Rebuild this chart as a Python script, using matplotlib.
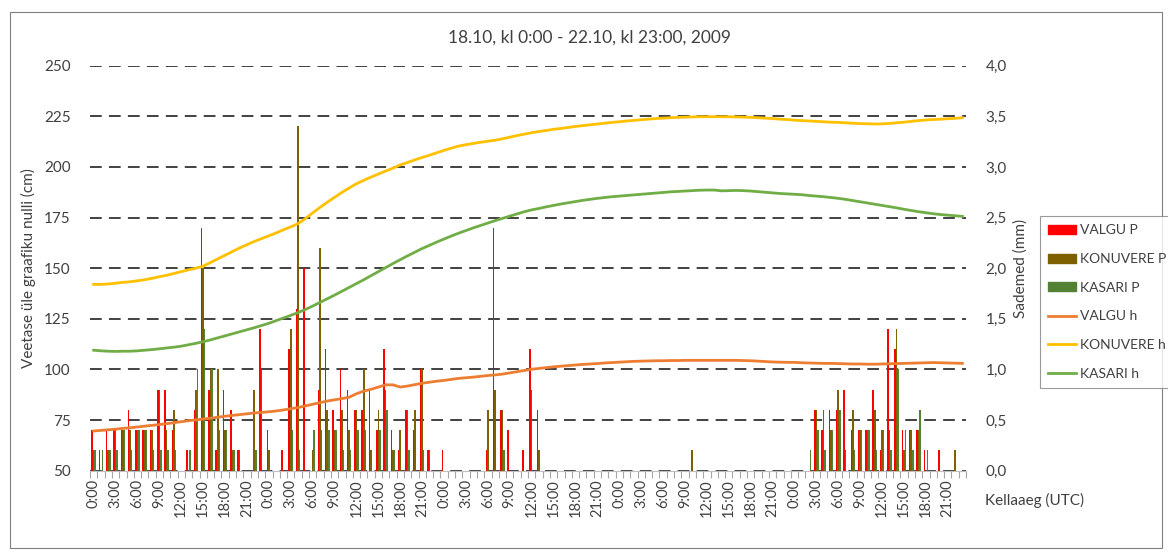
import numpy as np
import matplotlib
matplotlib.use("Agg")
import matplotlib.pyplot as plt
from matplotlib.patches import Rectangle, Patch
from matplotlib.lines import Line2D

plt.rcParams['font.family'] = ['Lato', 'DejaVu Sans']

# ---------------- data ----------------
hour_labels = [f"{h}:00" for h in range(0, 24, 3)] * 5

valgu_p = [0.4, 0.2, 0.4, 0.4, 0.4, 0.6, 0.4, 0.4, 0.4, 0.8, 0.8, 0.4, 0.0, 0.2, 0.6, 2.4, 0.8, 0.2, 0.8, 0.6, 0.2, 0.0, 0.0, 1.4,
           0.4, 0.0, 0.2, 1.2, 1.6, 2.0, 0.0, 0.8, 1.2, 0.6, 1.0, 0.8, 0.6, 0.6, 0.8, 0.4, 1.2, 0.4, 0.2, 0.6, 0.4, 1.0, 0.2, 0.0,
           0.2, 0.0, 0.0, 0.0, 0.0, 0.0, 0.2, 2.4, 0.6, 0.4, 0.0, 0.2, 1.2, 0.6, 0.0, 0.0, 0.0, 0.0, 0.0, 0.0, 0.0, 0.0, 0.0, 0.0,
           0.0, 0.0, 0.0, 0.0, 0.0, 0.0, 0.0, 0.0, 0.0, 0.0, 0.0, 0.0, 0.0, 0.0, 0.0, 0.0, 0.0, 0.0, 0.0, 0.0, 0.0, 0.0, 0.0, 0.0,
           0.0, 0.0, 0.0, 0.6, 0.4, 0.6, 0.6, 0.8, 0.4, 0.4, 0.4, 0.8, 0.2, 1.4, 1.2, 0.4, 0.4, 0.4, 0.2, 0.0, 0.2, 0.0, 0.0, 0.0]

konuvere_p = [0.2, 0.0, 0.2, 0.4, 0.4, 0.4, 0.4, 0.4, 0.4, 0.8, 0.4, 0.6, 0.0, 0.0, 0.8, 2.0, 1.0, 1.0, 0.4, 0.2, 0.2, 0.0, 0.8, 1.0,
              0.2, 0.0, 0.0, 1.4, 3.4, 0.0, 0.2, 2.2, 0.6, 0.4, 0.6, 0.4, 0.6, 1.0, 0.2, 0.6, 0.8, 0.2, 0.4, 0.6, 0.6, 1.0, 0.2, 0.0,
              0.0, 0.0, 0.0, 0.0, 0.0, 0.0, 0.6, 0.8, 0.6, 0.0, 0.0, 0.0, 0.8, 0.2, 0.0, 0.0, 0.0, 0.0, 0.0, 0.0, 0.0, 0.0, 0.0, 0.0,
              0.0, 0.0, 0.0, 0.0, 0.0, 0.0, 0.0, 0.0, 0.0, 0.0, 0.2, 0.0, 0.0, 0.0, 0.0, 0.0, 0.0, 0.0, 0.0, 0.0, 0.0, 0.0, 0.0, 0.0,
              0.0, 0.0, 0.0, 0.6, 0.6, 0.4, 0.8, 0.2, 0.6, 0.4, 0.4, 0.6, 0.4, 0.4, 1.4, 0.2, 0.4, 0.4, 0.0, 0.0, 0.0, 0.0, 0.2, 0.0]

kasari_p = [0.2, 0.2, 0.2, 0.2, 0.4, 0.2, 0.4, 0.4, 0.2, 0.2, 0.2, 0.2, 0.0, 0.2, 1.0, 1.4, 1.0, 0.4, 0.4, 0.2, 0.0, 0.0, 0.2, 0.0,
            0.0, 0.0, 0.0, 0.4, 0.2, 0.0, 0.4, 0.4, 0.4, 0.4, 0.2, 0.2, 0.4, 0.4, 0.0, 0.4, 0.6, 0.2, 0.0, 0.2, 0.0, 0.2, 0.0, 0.0,
            0.0, 0.0, 0.0, 0.0, 0.0, 0.0, 0.0, 0.0, 0.2, 0.0, 0.0, 0.0, 0.0, 0.0, 0.0, 0.0, 0.0, 0.0, 0.0, 0.0, 0.0, 0.0, 0.0, 0.0,
            0.0, 0.0, 0.0, 0.0, 0.0, 0.0, 0.0, 0.0, 0.0, 0.0, 0.0, 0.0, 0.0, 0.0, 0.0, 0.0, 0.0, 0.0, 0.0, 0.0, 0.0, 0.0, 0.0, 0.0,
            0.0, 0.0, 0.2, 0.4, 0.2, 0.4, 0.6, 0.0, 0.2, 0.4, 0.4, 0.2, 0.4, 0.2, 1.0, 0.4, 0.2, 0.6, 0.2, 0.0, 0.0, 0.0, 0.0, 0.0]

valgu_h = [69.6, 69.9, 70.2, 70.5, 70.9, 71.2, 71.6, 72.0, 72.4, 72.8, 73.2, 73.7, 74.2, 74.7, 75.1, 75.5, 75.9, 76.4, 76.9, 77.3, 77.7, 78.1, 78.5, 78.8,
           79.1, 79.5, 80.0, 80.6, 81.2, 82.0, 82.8, 83.6, 84.4, 85.0, 85.6, 86.3, 88.0, 89.3, 90.2, 91.3, 92.4, 92.4, 91.3, 91.8, 92.5, 93.2, 93.7, 94.2,
           94.6, 95.1, 95.6, 95.9, 96.2, 96.6, 97.0, 97.3, 97.7, 98.3, 98.9, 99.5, 100.1, 100.5, 100.9, 101.3, 101.6, 101.9, 102.2, 102.5, 102.7, 102.9, 103.2, 103.4,
           103.6, 103.8, 104.0, 104.1, 104.2, 104.3, 104.3, 104.4, 104.4, 104.5, 104.5, 104.5, 104.5, 104.5, 104.5, 104.5, 104.5, 104.4, 104.3, 104.1, 103.9, 103.7, 103.6, 103.5,
           103.5, 103.3, 103.2, 103.1, 103.0, 103.0, 102.9, 102.8, 102.7, 102.7, 102.6, 102.6, 102.7, 102.8, 102.9, 103.0, 103.1, 103.2, 103.3, 103.4, 103.3, 103.2, 103.1, 103.0]

konuvere_h = [142.0, 142.0, 142.2, 142.6, 143.0, 143.3, 143.8, 144.3, 145.0, 145.8, 146.5, 147.4, 148.3, 149.2, 150.0, 151.0, 152.8, 154.6, 156.4, 158.2, 160.0, 161.6, 163.2, 164.6,
              166.0, 167.4, 169.0, 170.4, 172.0, 174.5, 177.3, 180.0, 182.6, 185.0, 187.4, 189.6, 191.7, 193.4, 195.0, 196.5, 198.0, 199.4, 201.0, 202.2, 203.5, 204.7, 205.8, 207.0,
              208.2, 209.3, 210.3, 211.0, 211.6, 212.2, 212.7, 213.2, 213.9, 214.7, 215.5, 216.2, 216.9, 217.5, 218.0, 218.6, 219.0, 219.5, 220.0, 220.4, 220.8, 221.2, 221.6, 222.0,
              222.3, 222.7, 223.0, 223.3, 223.6, 223.9, 224.1, 224.3, 224.5, 224.6, 224.7, 224.8, 224.8, 224.8, 224.8, 224.8, 224.7, 224.6, 224.5, 224.3, 224.1, 223.9, 223.6, 223.4,
              223.1, 222.9, 222.7, 222.5, 222.3, 222.1, 222.0, 221.8, 221.6, 221.4, 221.3, 221.2, 221.3, 221.5, 221.8, 222.1, 222.5, 222.9, 223.2, 223.4, 223.6, 223.8, 224.0, 224.3]

kasari_h = [109.5, 109.2, 109.0, 108.9, 109.0, 109.0, 109.2, 109.5, 109.8, 110.2, 110.6, 111.0, 111.5, 112.2, 112.9, 113.7, 114.6, 115.6, 116.6, 117.6, 118.6, 119.6, 120.6, 121.7,
            122.8, 124.1, 125.4, 126.7, 128.1, 129.6, 131.3, 133.1, 134.9, 136.7, 138.6, 140.5, 142.4, 144.3, 146.3, 148.3, 150.3, 152.3, 154.2, 156.1, 157.9, 159.7, 161.3, 162.9,
            164.4, 165.9, 167.3, 168.6, 169.9, 171.1, 172.3, 173.5, 174.6, 175.7, 176.8, 177.9, 178.8, 179.5, 180.3, 181.0, 181.7, 182.3, 182.9, 183.5, 184.0, 184.5, 184.9, 185.3,
            185.6, 185.9, 186.2, 186.5, 186.8, 187.1, 187.4, 187.7, 187.9, 188.1, 188.3, 188.5, 188.6, 188.6, 188.2, 188.3, 188.4, 188.3, 188.1, 187.8, 187.5, 187.2, 186.9, 186.7,
            186.5, 186.3, 185.9, 185.6, 185.3, 184.9, 184.5, 184.0, 183.4, 182.8, 182.2, 181.6, 181.0, 180.4, 179.8, 179.1, 178.5, 177.9, 177.4, 176.9, 176.5, 176.2, 175.9, 175.6]

# ---------------- style ----------------
C_VP, C_KP, C_SP = '#FF0000', '#7F6000', '#548235'
C_VH, C_KH, C_SH = '#ED7D31', '#FFC000', '#70AD47'
TXT = '#404040'

W, H = 1168, 553
fig = plt.figure(figsize=(W / 100, H / 100), dpi=100)
L, R, T, B = 90, 966, 65.7, 470.7
ax = fig.add_axes([L / W, 1 - B / H, (R - L) / W, (B - T) / H])
axl = ax.twinx()

n = len(valgu_p)
x = np.arange(n)
bw = 0.21
ax.bar(x - bw, valgu_p, width=bw, color=C_VP, linewidth=0, zorder=3)
ax.bar(x, konuvere_p, width=bw, color=C_KP, linewidth=0, zorder=3)
ax.bar(x + bw, kasari_p, width=bw, color=C_SP, linewidth=0, zorder=3)

ax.set_xlim(-0.5, n - 0.5)
ax.set_ylim(0, 4.0)
ax.yaxis.tick_right()
ax.yaxis.set_label_position('right')
mm_ticks = np.arange(0, 4.01, 0.5)
ax.set_yticks(mm_ticks)
ax.set_yticklabels([f"{v:.1f}".replace('.', ',') for v in mm_ticks])
ax.yaxis.grid(True, linestyle=(0, (6.5, 4)), color='#333333', linewidth=1.3, zorder=0)
ax.set_axisbelow(True)

for s in ['top', 'left', 'right']:
    ax.spines[s].set_visible(False)
ax.spines['bottom'].set_color('#BFBFBF')

ax.set_xticks(np.arange(0, n, 3))
ax.set_xticklabels(hour_labels, rotation=90, fontsize=10.5, color=TXT)
ax.set_xticks(np.arange(-0.5, n, 1), minor=True)
ax.tick_params(axis='x', which='major', length=0, pad=6)
ax.tick_params(axis='x', which='minor', length=5, color='#A6A6A6', width=0.8)
ax.tick_params(axis='y', length=0, labelsize=11, labelcolor=TXT, pad=14,
               left=False, labelleft=False, right=False, labelright=True)
ax.set_ylabel('Sademed (mm)', fontsize=11, color=TXT, labelpad=5)

axl.plot(x, valgu_h, color=C_VH, linewidth=2.0, zorder=4)
axl.plot(x, konuvere_h, color=C_KH, linewidth=2.0, zorder=4)
axl.plot(x, kasari_h, color=C_SH, linewidth=2.0, zorder=4)
axl.set_ylim(50, 250)
axl.set_yticks(np.arange(50, 251, 25))
axl.yaxis.set_label_position('left')
axl.tick_params(axis='y', length=0, labelsize=11, labelcolor=TXT, pad=14,
                left=False, labelleft=True, right=False, labelright=False)
axl.set_ylabel('Veetase üle graafiku nulli (cm)', fontsize=11, color=TXT, labelpad=6)
for s in ['top', 'left', 'right', 'bottom']:
    axl.spines[s].set_visible(False)

fig.text(590 / W, 1 - 38 / H, '18.10, kl 0:00 - 22.10, kl 23:00, 2009', ha='center', va='center',
         fontsize=12.5, color=TXT)
fig.text(985 / W, 1 - 500 / H, 'Kellaaeg (UTC)', ha='left', va='center', fontsize=11, color=TXT)

handles = [Patch(color=C_VP), Patch(color=C_KP), Patch(color=C_SP),
           Line2D([], [], color=C_VH, lw=2), Line2D([], [], color=C_KH, lw=2), Line2D([], [], color=C_SH, lw=2)]
labels = ['VALGU P', 'KONUVERE P', 'KASARI P', 'VALGU h', 'KONUVERE h', 'KASARI h']
leg = fig.legend(handles, labels, loc='upper left', bbox_to_anchor=(1040 / W, 1 - 216 / H),
                 frameon=True, fancybox=False, edgecolor='#808080', fontsize=10,
                 labelspacing=1.2, handlelength=2.0, handletextpad=0.25, borderpad=0.6,
                 handleheight=0.6, borderaxespad=0)
for t in leg.get_texts():
    t.set_color(TXT)
leg.get_frame().set_linewidth(0.8)

fig.patches.append(Rectangle((10 / W, 1 - 548 / H), 1152 / W, 536 / H, transform=fig.transFigure,
                             fill=False, edgecolor='#7F7F7F', linewidth=0.8))

fig.savefig('out.png', dpi=100)
